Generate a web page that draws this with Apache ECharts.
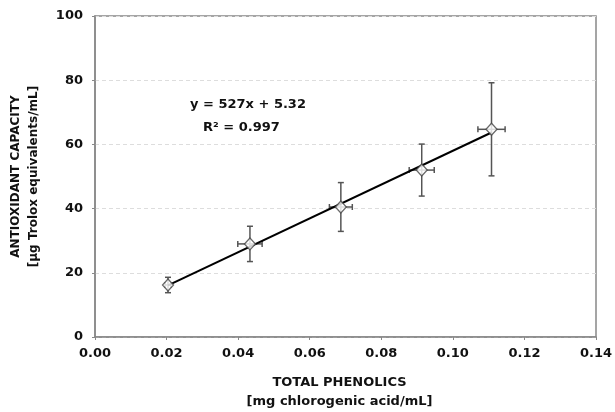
<!DOCTYPE html>
<html>
<head>
<meta charset="utf-8">
<script src="https://cdn.jsdelivr.net/npm/echarts@6/dist/echarts.min.js"></script>
<style>
  html, body { margin: 0; padding: 0; background: #fff; }
  #chart { width: 615px; height: 412px; }
</style>
</head>
<body>
<div id="chart"></div>
<script>
  // values
  var phenolics = [0.0204, 0.0433, 0.0687, 0.0913, 0.1108];
  var capacity = [16.2, 29.0, 40.5, 52.0, 64.7];
  var phenolicsErr = [0.0008, 0.0034, 0.0032, 0.0035, 0.0038];
  var capacityErr = [2.4, 5.5, 7.6, 8.1, 14.5];
  // ends of the linear trend line
  var trendX = [0.0204, 0.1108];
  var trendY = [16.1, 63.7];
  var fitLabels = ['y = 527x + 5.32', 'R\u00b2 = 0.997'];

  var points = phenolics.map(function (x, i) { return [x, capacity[i]]; });
  var errData = phenolics.map(function (x, i) {
    return [x, capacity[i], phenolicsErr[i], capacityErr[i]];
  });
  var trend = trendX.map(function (x, i) { return [x, trendY[i]]; });

  var font = 'DejaVu Sans';
  var myChart = echarts.init(document.getElementById('chart'));

  var option = {
    animation: false,
    backgroundColor: '#fff',
    grid: {
      left: 95, right: 19, top: 16, bottom: 75,
      containLabel: false,
      outerBoundsMode: 'none',
      show: true, borderColor: '#888', borderWidth: 1.5
    },
    xAxis: {
      type: 'value',
      min: 0, max: 0.14, interval: 0.02,
      name: 'TOTAL PHENOLICS\n[mg chlorogenic acid/mL]',
      nameLocation: 'middle',
      nameGap: 36,
      nameTextStyle: { fontFamily: font, fontWeight: 'bold', fontSize: 13, color: '#111', lineHeight: 19, padding: [0, 12, 0, 0] },
      axisLine: { lineStyle: { color: '#888', width: 1.5 } },
      axisTick: { show: true, length: 3, lineStyle: { color: '#888' } },
      axisLabel: {
        fontFamily: font, fontWeight: 'bold', fontSize: 13, color: '#111', margin: 10,
        formatter: function (v) { return v.toFixed(2); }
      },
      splitLine: { show: false }
    },
    yAxis: {
      type: 'value',
      min: 0, max: 100, interval: 20,
      name: 'ANTIOXIDANT CAPACITY\n[\u00b5g Trolox equivalents/mL]',
      nameLocation: 'middle',
      nameGap: 52,
      nameRotate: 90,
      nameTextStyle: { fontFamily: font, fontWeight: 'bold', fontSize: 12, color: '#111', lineHeight: 18 },
      axisLine: { lineStyle: { color: '#888', width: 1.5 } },
      axisTick: { show: true, length: 3, lineStyle: { color: '#888' } },
      axisLabel: { fontFamily: font, fontWeight: 'bold', fontSize: 13, color: '#111', margin: 12 },
      splitLine: { show: true, lineStyle: { color: '#ddd', type: [4, 3], width: 1 } }
    },
    graphic: [
      {
        type: 'text', left: 190, top: 98,
        style: { text: fitLabels[0], fontFamily: font, fontWeight: 'bold', fontSize: 13, fill: '#111' }
      },
      {
        type: 'text', left: 203, top: 121,
        style: { text: fitLabels[1], fontFamily: font, fontWeight: 'bold', fontSize: 13, fill: '#111' }
      }
    ],
    series: [
      {
        type: 'custom',
        data: errData,
        z: 2,
        silent: true,
        renderItem: function (params, api) {
          var x = api.value(0), y = api.value(1), ex = api.value(2), ey = api.value(3);
          var top = api.coord([x, y + ey]), bot = api.coord([x, y - ey]);
          var lft = api.coord([x - ex, y]), rgt = api.coord([x + ex, y]);
          var c = 3;
          var st = { stroke: '#555', lineWidth: 1.5 };
          function seg(x1, y1, x2, y2) {
            return { type: 'line', shape: { x1: x1, y1: y1, x2: x2, y2: y2 }, style: st };
          }
          return {
            type: 'group',
            children: [
              seg(top[0], top[1], bot[0], bot[1]),
              seg(top[0] - c, top[1], top[0] + c, top[1]),
              seg(bot[0] - c, bot[1], bot[0] + c, bot[1]),
              seg(lft[0], lft[1], rgt[0], rgt[1]),
              seg(lft[0], lft[1] - c, lft[0], lft[1] + c),
              seg(rgt[0], rgt[1] - c, rgt[0], rgt[1] + c)
            ]
          };
        }
      },
      {
        type: 'line',
        data: trend,
        z: 3,
        symbol: 'none',
        lineStyle: { color: '#000', width: 2 }
      },
      {
        type: 'scatter',
        data: points,
        z: 4,
        symbol: 'diamond',
        symbolSize: [11, 12],
        itemStyle: { color: '#fff', borderColor: '#444', borderWidth: 1.3 }
      }
    ]
  };

  myChart.setOption(option);
</script>
</body>
</html>
